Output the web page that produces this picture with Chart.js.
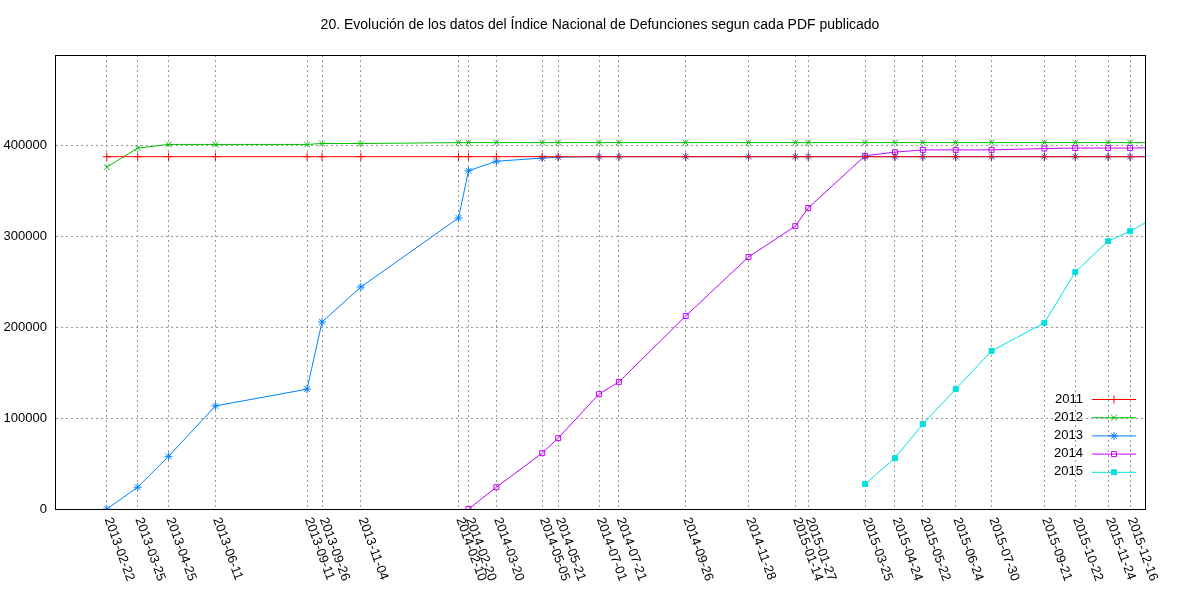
<!DOCTYPE html>
<html>
<head>
<meta charset="utf-8">
<script src="https://cdn.jsdelivr.net/npm/chart.js@4"></script>
<style>
  body { margin: 0; background: #fff; }
  #wrap { width: 1200px; height: 600px; }
</style>
</head>
<body>
<div id="wrap"><canvas id="chart"></canvas></div>
<script>
"use strict";

const TITLE = "20. Evolución de los datos del Índice Nacional de Defunciones segun cada PDF publicado";

// dates of each published PDF (also the x tick labels)
const tickDates = ["2013-02-22", "2013-03-25", "2013-04-25", "2013-06-11", "2013-09-11", "2013-09-26",
  "2013-11-04", "2014-02-10", "2014-02-20", "2014-03-20", "2014-05-05", "2014-05-21", "2014-07-01",
  "2014-07-21", "2014-09-26", "2014-11-28", "2015-01-14", "2015-01-27", "2015-03-25", "2015-04-24",
  "2015-05-22", "2015-06-24", "2015-07-30", "2015-09-21", "2015-10-22", "2015-11-24", "2015-12-16"];
const seriesDates = tickDates.concat(["2016-01-20"]);

const yTicks = [0, 100000, 200000, 300000, 400000];

// values per PDF, null = year not yet present
const d2011 = [388000, 388000, 388000, 388000, 388000, 388000, 388000, 388000, 388000, 388000, 388000, 388000,
  388000, 388000, 388000, 388000, 388000, 388000, 388000, 388000, 388000, 388000, 388000, 388000, 388000, 388000, 388000, 388000];
const d2012 = [376500, 397500, 401500, 401500, 401500, 402500, 402500, 403500, 403500, 403500, 403500, 403500,
  403500, 403500, 403500, 403500, 403500, 403500, 403500, 403500, 403500, 403500, 403500, 403500, 403500, 403500, 403500, 403500];
const d2013 = [0, 24000, 58000, 113500, 132000, 206000, 244500, 320500, 372500, 383000, 386500, 387500,
  388000, 388000, 388000, 388000, 388000, 388000, 388000, 388000, 388000, 388000, 388000, 388000, 388000, 388000, 388000, 388000];
const d2014 = [null, null, null, null, null, null, null, null, 0, 24000, 61500, 78000,
  126500, 140000, 212500, 277500, 311500, 331500, 389000, 393000, 395500, 395500, 395500, 397000, 397500, 397500, 397500, 398000];
const d2015 = [null, null, null, null, null, null, null, null, null, null, null, null,
  null, null, null, null, null, null, 27500, 56000, 93500, 132000, 174000, 205000, 261000, 295000, 306000, 327000];

const toMs = s => Date.parse(s + "T00:00:00Z");
const pts = arr => seriesDates.map((d, i) => ({ x: toMs(d), y: arr[i] })).filter(p => p.y !== null);

const FONT = "'Liberation Sans', Arial, sans-serif";

let makeSet = (label, data, color, style, fill) => ({
  label: label,
  data: pts(data),
  borderColor: color,
  backgroundColor: fill ? color : "rgba(0,0,0,0)",
  borderWidth: 1,
  pointStyle: style,
  pointRadius: style === "rect" ? 3.5 : 4,
  pointBorderWidth: 1,
  tension: 0
});

const sets = [
  makeSet("2011", d2011, "#ff0000", "cross", false),
  makeSet("2012", d2012, "#00c000", "crossRot", false),
  makeSet("2013", d2013, "#0080ff", "star", false),
  makeSet("2014", d2014, "#c000ff", "rect", false),
  makeSet("2015", d2015, "#00e0e0", "rect", true)
];

// title, tick labels and legend drawn the gnuplot way
const decor = {
  id: "decor",
  beforeDatasetsDraw(chart) {
    const c = chart.ctx, a = chart.chartArea;
    c.save();
    c.strokeStyle = "#000";
    c.lineWidth = 1;
    c.strokeRect(a.left + 0.5, a.top + 0.5, a.right - a.left, a.bottom - a.top);
    c.restore();
  },
  afterDraw(chart) {
    const ctx = chart.ctx, a = chart.chartArea;
    const xs = chart.scales.x, ys = chart.scales.y;
    ctx.save();
    ctx.fillStyle = "#000";
    ctx.font = "14px " + FONT;
    ctx.textAlign = "center";
    ctx.textBaseline = "middle";
    ctx.fillText(TITLE, 600, 25);

    ctx.font = "13px " + FONT;
    ctx.textAlign = "right";
    for (let v of yTicks) ctx.fillText(String(v), a.left - 8, ys.getPixelForValue(v));

    ctx.textAlign = "left";
    for (let d of tickDates) {
      ctx.save();
      ctx.translate(xs.getPixelForValue(toMs(d)) + 1, a.bottom + 9);
      ctx.rotate(70 * Math.PI / 180);
      ctx.fillText(d, 0, 0);
      ctx.restore();
    }

    // legend
    sets.forEach((s, i) => {
      const y = 399 + i * 18.2;
      ctx.fillStyle = "#000";
      ctx.textAlign = "right";
      ctx.fillText(s.label, 1083, y);
      ctx.strokeStyle = s.borderColor;
      ctx.lineWidth = 1;
      ctx.beginPath();
      ctx.moveTo(1092, y + 0.5);
      ctx.lineTo(1136, y + 0.5);
      ctx.stroke();
      ctx.fillStyle = s.backgroundColor;
      Chart.helpers.drawPoint(ctx, { pointStyle: s.pointStyle, radius: s.pointRadius, rotation: 0, borderWidth: 1 }, 1114, y + 0.5);
    });
    ctx.restore();
  }
};

new Chart(document.querySelector("#chart"), {
  type: "line",
  data: { datasets: sets },
  plugins: [decor],
  options: {
    responsive: true,
    maintainAspectRatio: false,
    animation: false,
    layout: { padding: { top: 55, right: 55, left: 0, bottom: 0 } },
    plugins: { legend: { display: false }, tooltip: { enabled: false } },
    scales: {
      x: {
        type: "linear",
        min: toMs("2013-01-01"),
        max: toMs("2015-12-31"),
        afterFit: scale => { scale.height = 91; },
        afterBuildTicks: scale => { scale.ticks = tickDates.map(d => ({ value: toMs(d) })); },
        ticks: { display: false },
        grid: { color: "#9a9a9a", tickLength: 0, lineWidth: 1 },
        border: { display: true, color: "#000", dash: [2, 3] }
      },
      y: {
        min: 0,
        max: 500000,
        afterFit: scale => { scale.width = 55; },
        afterBuildTicks: scale => { scale.ticks = yTicks.map(v => ({ value: v })); },
        ticks: { display: false },
        grid: { color: "#9a9a9a", tickLength: 0, lineWidth: 1 },
        border: { display: true, color: "#000", dash: [2, 3] }
      }
    }
  }
});
</script>
</body>
</html>
